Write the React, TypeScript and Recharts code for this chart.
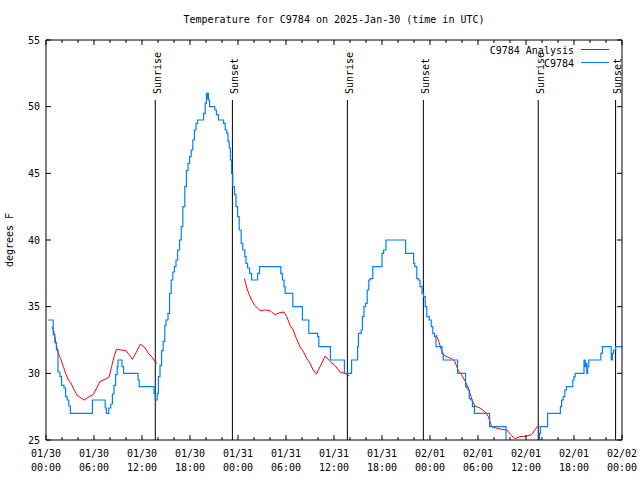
import { LineChart, Line, XAxis, YAxis, ReferenceLine, Legend } from "recharts";

const FONT = "'DejaVu Sans Mono', 'Liberation Mono', monospace";

// hours since 2025-01-30 00:00 UTC
const hourTicks = [0, 2, 4, 6, 8, 10, 12, 14, 16, 18, 20, 22, 24, 26, 28, 30, 32, 34, 36, 38, 40, 42, 44, 46, 48, 50, 52, 54, 56, 58, 60, 62, 64, 66, 68, 70, 72];
const dateLabels = ["01/30", "01/30", "01/30", "01/30", "01/31", "01/31", "01/31", "01/31", "02/01", "02/01", "02/01", "02/01", "02/02"];
const timeLabels = ["00:00", "06:00", "12:00", "18:00", "00:00", "06:00", "12:00", "18:00", "00:00", "06:00", "12:00", "18:00", "00:00"];
const tempTicks = [25, 30, 35, 40, 45, 50, 55];

const seriesNames = ["C9784 Analysis", "C9784"];

const sunNames = ["Sunrise", "Sunset", "Sunrise", "Sunset", "Sunrise", "Sunset"];
const sunHours = [13.66, 23.3, 37.67, 47.17, 61.53, 71.2];

// C9784 observations (value holds until next time)
const obsHours = [
  0.25, 0.9, 1.1, 1.3, 1.5, 1.75, 1.95, 2.25, 2.45, 2.65, 2.85, 3.05, 5.8, 7.4, 7.55, 7.85, 8.1, 8.3, 8.5, 8.7,
  8.9, 9.0, 9.5, 9.7, 11.5, 11.65, 13.5, 13.65, 13.9, 14.05, 14.25, 14.45, 14.65, 14.85, 15.0, 15.25, 15.45, 15.65, 15.85, 16.05,
  16.25, 16.45, 16.7, 16.9, 17.1, 17.35, 17.55, 17.75, 17.95, 18.15, 18.35, 18.55, 18.75, 18.95, 19.7, 19.9, 20.05, 20.15, 20.2, 20.3,
  20.45, 21.1, 21.3, 21.55, 22.2, 22.4, 22.6, 22.75, 22.9, 23.05, 23.2, 23.35, 23.55, 23.75, 23.95, 24.15, 24.4, 24.6, 24.85, 25.0,
  25.2, 25.45, 25.7, 26.45, 26.7, 29.35, 29.55, 29.75, 29.9, 30.85, 32.05, 32.85, 33.95, 34.1, 35.55, 37.3, 38.2, 38.95, 39.05, 39.4,
  39.55, 39.75, 39.95, 40.15, 40.35, 40.55, 40.85, 42.0, 42.2, 42.5, 44.95, 45.95, 46.1, 46.35, 46.55, 46.75, 47.0, 47.2, 47.4, 47.6,
  47.9, 48.15, 48.35, 48.55, 48.75, 49.5, 49.65, 51.45, 52.45, 52.6, 52.75, 52.9, 53.1, 53.3, 53.55, 55.45, 57.5, 61.7, 61.8, 62.7,
  64.3, 64.45, 64.65, 64.85, 65.05, 65.85, 66.0, 66.15, 67.25, 67.4, 67.5, 67.6, 67.7, 67.85, 69.35, 69.55, 70.65, 70.8, 70.95, 71.2,
  72,
];
const obsTemps = [
  34, 32.9, 32.3, 31.75, 30.1, 29.75, 29.1, 28.9, 28.25, 28, 27.55, 27, 28, 27.4, 27, 27.4, 27.7, 28.45, 29.1, 29.9,
  30.5, 31, 30.5, 30, 29.5, 29, 28.5, 28, 28.5, 29.75, 30.6, 31.7, 32.4, 33.6, 34, 34.5, 36, 37, 37.6, 38,
  38.5, 39.25, 40, 41, 42.5, 44, 45.2, 45.75, 46.25, 46.75, 47.5, 48.25, 48.75, 49, 49.5, 50.25, 51, 50.6, 51, 50.5,
  50, 49.75, 49.4, 49, 48.75, 48.25, 48, 47.4, 46.9, 46, 45, 44, 43.4, 42.5, 41.75, 40.75, 39.75, 39.25, 38.75, 38.25,
  37.9, 37.5, 37, 37.5, 38, 37.5, 37, 36.5, 36, 35, 34, 33, 32.75, 32, 31, 30, 31, 32, 33, 33.25,
  34.25, 35, 35.25, 36.25, 37, 37.1, 38, 39, 39.25, 40, 39, 38.25, 38, 37.1, 37, 36.5, 36, 35.75, 35, 34.25,
  34, 33.5, 33, 32.75, 32, 31.5, 31, 30, 29, 28.9, 28.75, 28.1, 28, 27.5, 27, 26, 24, 25.5, 26, 27,
  27.5, 28, 28.25, 28.75, 29, 29.5, 29.75, 30, 31, 30.5, 30.75, 30, 30.5, 31, 31.5, 32, 31, 31.5, 31.75, 32,
  32,
];

// C9784 Analysis (null = no analysis)
const anaHours = [
  0.75, 1.0, 1.25, 1.54, 1.83, 2.17, 2.46, 2.8, 3.1, 3.4, 3.83, 4.25, 4.8, 5.4, 5.9, 6.33, 6.75, 7.4, 7.9, 8.2,
  8.5, 8.8, 9.46, 10.0, 10.4, 10.8, 11.3, 11.8, 12.4, 12.8, 13.2, 13.6, 13.9, 19,
  24.8, 25.1, 25.4, 25.7, 26.1, 26.75, 27.4, 28.0, 28.6, 29.25, 29.75, 30.1, 30.5, 30.9, 31.3, 31.75, 32.2, 32.6, 33.0, 33.4,
  33.8, 34.25, 34.9, 35.5, 36.1, 36.75, 37.4, 37.9, 43,
  48.75, 49.04, 49.25, 49.6, 50.1, 50.7, 51.1, 51.5, 51.96, 52.4, 52.8, 53.2, 53.6, 54.25, 54.9, 55.3, 55.7, 56.3, 56.96, 57.6,
  58.1, 58.6, 59.25, 60.1, 60.7, 61.1, 61.4, 61.7,
];
const anaTemps = [
  33.5, 33.1, 32.25, 31.5, 31.1, 30.5, 30.0, 29.5, 29.3, 28.9, 28.4, 28.2, 28.0, 28.25, 28.4, 28.9, 29.4, 29.55, 29.75, 30.5,
  31.25, 31.8, 31.75, 31.7, 31.4, 31.05, 31.6, 32.2, 31.9, 31.5, 31.25, 30.9, 30.75, null,
  37.1, 36.4, 35.9, 35.5, 35.1, 34.7, 34.75, 34.7, 34.4, 34.55, 34.6, 34.25, 33.6, 33.25, 32.6, 32.0, 31.6, 31.1, 30.75, 30.25,
  29.95, 30.5, 31.3, 30.9, 30.6, 30.1, 30.0, 29.8, null,
  32.9, 32.5, 32.1, 31.4, 31.25, 31.1, 30.9, 30.25, 29.9, 29.4, 28.9, 28.1, 27.55, 27.4, 27.1, 26.75, 26.0, 25.9, 25.8, 25.75,
  25.4, 25.1, 25.25, 25.3, 25.4, 25.75, 26.0, 26.05,
];

const obsData = obsHours.map((h, i) => ({ h, v: obsTemps[i] }));
const anaData = anaHours.map((h, i) => ({ h, v: anaTemps[i] }));

const txt = { fontFamily: FONT, fontSize: 10, fill: "#000" };

function BottomTick({ x, y, payload }: any) {
  const major = payload.value % 6 === 0;
  const i = payload.value / 6;
  return (
    <g>
      <line x1={x} x2={x} y1={y} y2={y - (major ? 5 : 3)} stroke="#000" />
      {major && (
        <text x={x} y={y} textAnchor="middle" {...txt}>
          <tspan x={x} dy={17}>{dateLabels[i]}</tspan>
          <tspan x={x} dy={14}>{timeLabels[i]}</tspan>
        </text>
      )}
    </g>
  );
}

function TopTick({ x, y, payload }: any) {
  const major = payload.value % 6 === 0;
  return <line x1={x} x2={x} y1={y} y2={y + (major ? 5 : 3)} stroke="#000" />;
}

function LeftTick({ x, y, payload }: any) {
  return (
    <g>
      <line x1={x} x2={x + 5} y1={y} y2={y} stroke="#000" />
      <text x={x - 6} y={y + 3.5} textAnchor="end" {...txt}>
        {payload.value}
      </text>
    </g>
  );
}

function RightTick({ x, y }: any) {
  return <line x1={x} x2={x - 5} y1={y} y2={y} stroke="#000" />;
}

function sunLabel(name: string) {
  return (props: any) => {
    const vb = props.viewBox;
    const tx = vb.x + 5.5;
    const ty = vb.y - 6;
    return (
      <text x={tx} y={ty} transform={`rotate(-90 ${tx} ${ty})`} {...txt}>
        {name}
      </text>
    );
  };
}

function LegendBox({ payload }: any) {
  const items = [...(payload || [])].sort(
    (a: any, b: any) => seriesNames.indexOf(a.value) - seriesNames.indexOf(b.value)
  );
  return (
    <svg width={150} height={32}>
      {items.map((p: any, i: number) => (
        <g key={p.value}>
          <text x={104} y={13.5 + i * 13} textAnchor="end" {...txt}>
            {p.value}
          </text>
          <line x1={111} x2={139} y1={9.5 + i * 13} y2={9.5 + i * 13} stroke={p.color} />
        </g>
      ))}
    </svg>
  );
}

export default function App() {
  return (
    <div style={{ position: "absolute", left: 0, top: 0, width: 640, height: 480, background: "#fff" }}>
      <div
        style={{
          position: "absolute",
          left: 46,
          width: 576,
          top: 14,
          lineHeight: "12px",
          textAlign: "center",
          fontFamily: FONT,
          fontSize: 10,
          color: "#000",
        }}
      >
        Temperature for C9784 on 2025-Jan-30 (time in UTC)
      </div>
      <div
        style={{
          position: "absolute",
          left: 10,
          top: 240,
          transform: "translate(-50%, -50%) rotate(-90deg)",
          whiteSpace: "nowrap",
          lineHeight: "12px",
          fontFamily: FONT,
          fontSize: 10,
          color: "#000",
        }}
      >
        degrees F
      </div>
      <LineChart width={640} height={480} margin={{ top: 39, right: 17, left: 0, bottom: 0 }} style={{ position: "absolute", left: 0, top: 0 }}>
        <XAxis
          dataKey="h"
          type="number"
          domain={[0, 72]}
          ticks={hourTicks}
          interval={0}
          height={40}
          tickSize={0}
          tickMargin={0}
          tick={BottomTick}
          axisLine={{ stroke: "#000" }}
          allowDataOverflow
        />
        <XAxis
          xAxisId="top"
          orientation="top"
          dataKey="h"
          type="number"
          domain={[0, 72]}
          ticks={hourTicks}
          interval={0}
          height={1}
          tickSize={0}
          tickMargin={0}
          tick={TopTick}
          axisLine={{ stroke: "#000" }}
          allowDataOverflow
        />
        <YAxis
          type="number"
          domain={[25, 55]}
          ticks={tempTicks}
          interval={0}
          width={46}
          tickSize={0}
          tickMargin={0}
          tick={LeftTick}
          axisLine={{ stroke: "#000" }}
          allowDataOverflow
        />
        <YAxis
          yAxisId="right"
          orientation="right"
          type="number"
          domain={[25, 55]}
          ticks={tempTicks}
          interval={0}
          width={1}
          tickSize={0}
          tickMargin={0}
          tick={RightTick}
          axisLine={{ stroke: "#000" }}
          allowDataOverflow
        />
        {sunHours.map((h, i) => (
          <ReferenceLine
            key={i}
            segment={[
              { x: h, y: 25 },
              { x: h, y: 50.5 },
            ]}
            stroke="#000"
            strokeWidth={1}
            label={sunLabel(sunNames[i])}
          />
        ))}
        <Line
          data={anaData}
          dataKey="v"
          name={seriesNames[0]}
          xAxisId="top"
          yAxisId="right"
          type="linear"
          stroke="#ff0000"
          strokeWidth={1}
          dot={false}
          activeDot={false}
          isAnimationActive={false}
        />
        <Line
          data={obsData}
          dataKey="v"
          name={seriesNames[1]}
          type="stepAfter"
          stroke="#0080ff"
          strokeWidth={1.2}
          dot={false}
          activeDot={false}
          isAnimationActive={false}
        />
        <Legend
          layout="vertical"
          align="center"
          verticalAlign="middle"
          content={LegendBox}
          wrapperStyle={{ position: "absolute", left: 470, top: 40, width: 150, height: 32 }}
        />
      </LineChart>
    </div>
  );
}
